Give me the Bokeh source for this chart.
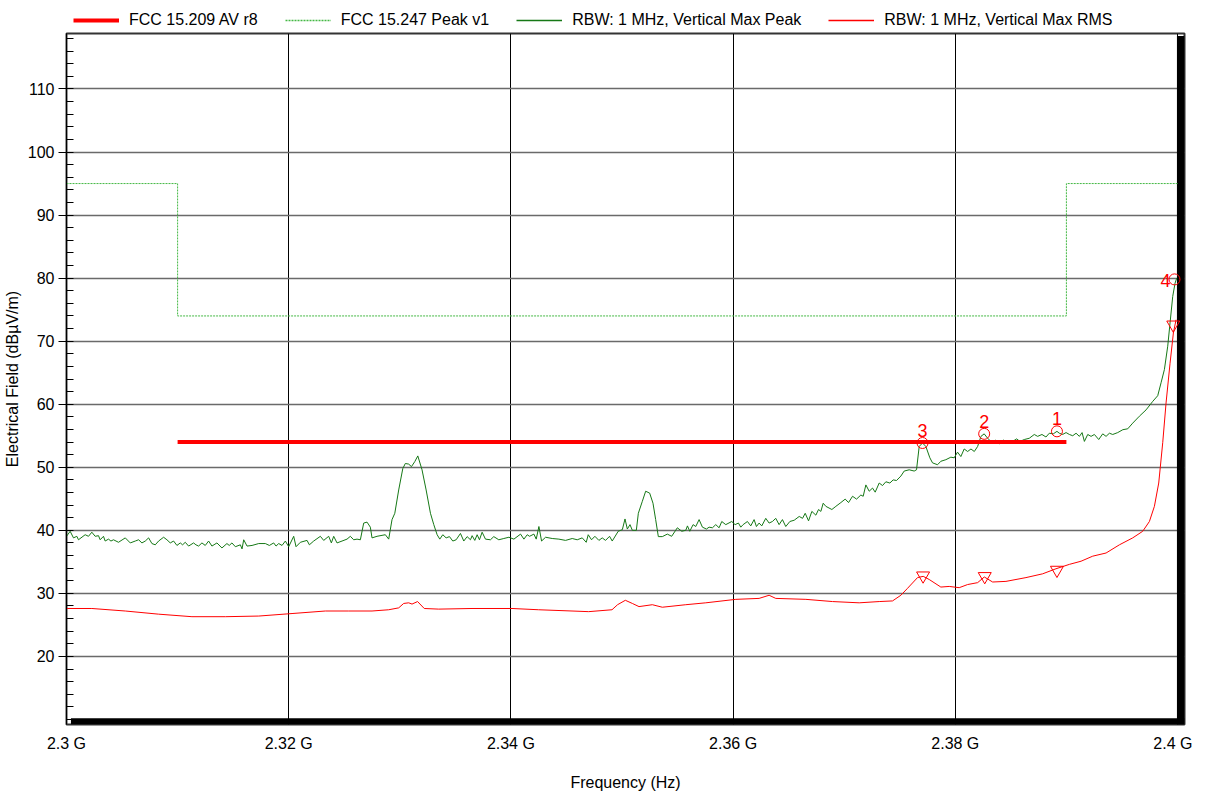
from bokeh.plotting import figure
from bokeh.layouts import column
from bokeh.models import (ColumnDataSource, Legend, LegendItem, FixedTicker,
                          CustomJSTickFormatter, Range1d)
from bokeh.core.properties import value
from bokeh.embed import file_html
from bokeh.resources import INLINE

FONT = "Liberation Sans"
F0 = 2300.0  # MHz, start of sweep

# ---- Data (frequency offsets in MHz from 2.3 GHz, levels in dBuV/m) ----
peak_off = [0, 0.33, 0.63, 0.93, 1.08, 1.68, 1.98, 2.28, 2.58, 2.88, 3.03, 3.33, 3.48, 3.78, 4.0,
            4.23, 4.68, 5.29, 5.74, 6.19, 6.49, 6.79, 7.09, 7.39, 7.69, 7.99, 8.29, 8.74, 9.04,
            9.34, 9.64, 9.94, 10.24, 10.45, 10.69, 10.99, 11.44, 11.65, 11.89, 12.19, 12.49,
            12.79, 13.09, 13.54, 13.99, 14.44, 14.65, 14.89, 15.2, 15.65, 15.8, 15.95, 16.25,
            16.7, 17.3, 17.9, 18.26, 18.65, 18.86, 19.1, 19.4, 19.7, 20.0, 20.45, 20.66, 21.05,
            21.65, 21.86, 22.25, 22.85, 23.15, 23.6, 23.84, 24.05, 24.35, 24.8, 25.25, 25.55,
            25.85, 26.15, 26.45, 26.75, 27.05, 27.35, 27.5, 27.95, 28.4, 28.7, 29.0, 29.3, 29.55,
            29.9, 30.27, 30.5, 30.8, 31.05, 31.35, 31.62, 32.0, 32.37, 32.76, 33.06, 33.36, 33.6,
            33.87, 34.17, 34.47, 34.77, 35.07, 35.46, 35.76, 36.06, 36.36, 36.51, 36.75, 36.96,
            37.17, 37.41, 37.71, 38.16, 38.46, 38.91, 39.36, 39.82, 40.27, 40.87, 41.17, 41.47,
            41.68, 42.07, 42.28, 42.52, 42.76, 43.12, 43.72, 44.32, 44.92, 45.52, 45.97, 46.42,
            46.78, 46.96, 47.26, 47.56, 47.92, 48.22, 48.52, 48.88, 49.12, 49.66, 50.03, 50.27,
            50.48, 50.72, 50.93, 51.29, 51.47, 51.83, 52.13, 52.49, 52.79, 53.03, 53.27, 53.63,
            54.08, 54.47, 54.98, 55.38, 55.74, 55.89, 56.1, 56.4, 56.64, 56.94, 57.24, 57.6,
            57.84, 58.14, 58.44, 58.74, 58.98, 59.34, 59.88, 60.18, 60.48, 60.69, 60.9, 61.29,
            61.59, 61.89, 62.1, 62.34, 62.58, 62.94, 63.24, 63.54, 63.84, 64.14, 64.44, 64.74,
            65.11, 65.5, 65.95, 66.25, 66.49, 66.79, 67.09, 67.45, 67.69, 67.9, 68.11, 68.35,
            68.89, 69.25, 69.7, 70.09, 70.39, 70.75, 71.11, 71.5, 71.71, 71.95, 72.25, 72.55,
            72.79, 73.15, 73.45, 73.75, 74.11, 74.41, 74.71, 75.1, 75.4, 75.85, 76.3, 76.51,
            76.75, 77.05, 77.35, 77.71, 77.95, 78.4, 78.7, 79.15, 79.6, 79.9, 80.2, 80.5, 80.8,
            81.11, 81.41, 81.71, 82.01, 82.31, 82.6, 82.91, 83.21, 83.66, 83.96, 84.32, 84.71,
            85.16, 85.52, 85.82, 86.21, 86.66, 87.11, 87.41, 87.8, 88.16, 88.46, 88.82, 89.15,
            89.36, 89.66, 89.97, 90.27, 90.57, 90.87, 91.17, 91.41, 91.62, 91.92, 92.22, 92.52,
            92.91, 93.27, 93.57, 93.87, 94.17, 94.62, 95.08, 95.52, 95.97, 96.57, 97.17, 97.77,
            98.22, 98.52, 98.82, 99.12, 99.33, 99.57, 99.78, 99.93]
peak_val = [39.05, 39.84, 38.8, 39.05, 38.5, 39.3, 39.05, 39.7, 39.05, 39.15, 38.5, 39.05, 38.3,
            38.6, 38.3, 38.5, 38.1, 38.8, 38.0, 38.3, 38.5, 38.0, 38.3, 38.8, 37.9, 37.7, 38.3,
            38.9, 38.5, 38.0, 38.3, 37.6, 38.0, 37.7, 38.1, 37.5, 38.0, 37.7, 37.5, 38.0, 37.6,
            38.3, 37.5, 38.0, 37.2, 37.9, 37.6, 38.0, 37.4, 37.7, 37.05, 38.5, 37.5, 37.6, 37.9,
            37.9, 37.6, 38.0, 37.5, 37.9, 37.6, 38.3, 37.4, 39.05, 37.4, 38.1, 38.4, 37.7, 38.3,
            39.05, 38.4, 39.05, 38.0, 39.05, 38.0, 38.3, 38.6, 39.05, 38.5, 38.6, 38.5, 41.15,
            41.3, 40.5, 38.8, 39.05, 39.2, 39.3, 38.6, 41.7, 42.7, 46.4, 49.8, 50.6, 50.5, 50.1,
            50.9, 51.8, 49.6, 46.4, 42.7, 40.9, 39.3, 38.6, 39.3, 38.8, 39.0, 38.3, 38.5, 39.5,
            38.3, 39.0, 38.5, 39.15, 38.4, 39.3, 38.5, 39.7, 38.6, 38.5, 39.0, 38.5, 38.7, 38.9,
            38.6, 39.4, 38.6, 39.3, 39.05, 39.4, 38.6, 40.6, 38.3, 38.9, 38.7, 38.6, 38.4, 38.7,
            38.5, 38.8, 38.1, 39.3, 38.5, 39.05, 38.4, 38.8, 38.4, 39.05, 38.3, 39.85, 40.1,
            41.8, 40.2, 40.9, 40.0, 40.0, 42.7, 44.6, 46.2, 45.9, 44.3, 41.7, 39.0, 39.0, 39.4,
            39.05, 40.4, 39.85, 40.0, 40.7, 39.85, 40.9, 40.6, 41.7, 40.5, 40.2, 40.5, 40.4,
            40.9, 40.4, 41.4, 40.9, 41.4, 40.9, 41.15, 40.5, 40.9, 41.4, 40.7, 41.7, 40.6, 41.15,
            40.7, 41.9, 41.15, 41.4, 41.9, 40.9, 41.7, 40.6, 41.4, 41.6, 42.2, 41.9, 42.7, 41.5,
            43.0, 42.4, 43.3, 43.0, 44.3, 43.8, 43.3, 43.8, 44.4, 44.95, 44.4, 45.4, 44.95, 45.6,
            45.4, 47.2, 46.2, 46.7, 46.05, 47.5, 47.1, 47.7, 47.5, 48.0, 47.9, 48.6, 49.4, 49.6,
            49.4, 49.6, 53.3, 53.85, 53.3, 51.5, 50.7, 50.4, 50.95, 51.2, 51.6, 51.5, 52.4, 51.7,
            52.9, 52.5, 52.9, 52.5, 53.3, 54.9, 55.3, 54.6, 54.1, 54.3, 53.7, 54.3, 53.96, 54.1,
            54.5, 54.1, 54.4, 54.6, 55.2, 54.9, 55.2, 54.8, 55.4, 55.3, 55.7, 55.4, 55.2, 55.5,
            55.2, 55.0, 55.4, 54.9, 55.5, 54.1, 55.2, 54.9, 55.2, 54.4, 55.3, 54.9, 55.4, 55.2,
            55.5, 55.96, 56.1, 57.0, 58.1, 59.1, 60.45, 61.35, 63.4, 65.5, 69.2, 72.9, 77.1,
            79.2, 80.0]

rms_off = [0, 2.28, 5.29, 8.29, 11.29, 14.3, 17.3, 20.3, 23.3, 25.4, 27.5, 29.0, 29.9, 30.35,
           30.8, 31.1, 31.6, 32.2, 33.5, 36.5, 40.1, 42.5, 45.5, 47.0, 49.1, 49.6, 50.3, 50.93,
           51.53, 52.73, 53.63, 55.74, 57.54, 60.24, 62.34, 63.24, 63.84, 66.55, 68.95, 71.35,
           73.15, 74.35, 75.1, 75.7, 76.6, 77.11, 77.65, 78.7, 79.45, 80.35, 81.11, 82.01,
           82.61, 83.36, 84.56, 86.36, 87.86, 89.06, 90.27, 91.32, 92.37, 93.57, 94.77, 95.97,
           96.87, 97.47, 97.92, 98.31, 98.67, 98.97, 99.33, 99.63, 99.87]
rms_val = [27.6, 27.6, 27.2, 26.7, 26.3, 26.3, 26.4, 26.8, 27.2, 27.2, 27.2, 27.4, 27.7, 28.4,
           28.5, 28.3, 28.7, 27.6, 27.5, 27.6, 27.6, 27.4, 27.2, 27.1, 27.4, 28.2, 28.9, 28.4,
           27.9, 28.2, 27.8, 28.2, 28.5, 29.05, 29.2, 29.7, 29.2, 29.05, 28.7, 28.5, 28.7, 28.8,
           29.7, 30.8, 32.5, 32.7, 32.2, 31.0, 31.1, 30.9, 31.4, 31.7, 32.6, 31.8, 31.9, 32.5,
           33.1, 33.9, 34.6, 35.1, 35.9, 36.4, 37.7, 38.8, 39.85, 41.4, 43.8, 47.5, 53.9, 60.2,
           66.5, 71.3, 73.4]

# Limit lines
av_lim_off = [10, 90]
av_lim_val = [54, 54]
pk_lim_off = [0, 10, 10, 90, 90, 100]
pk_lim_val = [95, 95, 74, 74, 95, 95]

# Markers
mk_labels = ["1", "2", "3", "4"]
mk_off = [89.15, 82.6, 77.05, 99.73]
mk_peak = [55.7, 55.3, 53.85, 79.8]
mk_rms_off = [89.15, 82.65, 77.1, 99.62]
mk_rms = [33.7, 32.7, 32.8, 72.6]

x_tick_off = [0, 20, 40, 60, 80, 100]
y_major = [20, 30, 40, 50, 60, 70, 80, 90, 100, 110]
y_minor = list(range(10, 119, 2))

legend_labels = ["FCC 15.209 AV r8", "FCC 15.247 Peak v1",
                 "RBW: 1 MHz, Vertical Max Peak", "RBW: 1 MHz, Vertical Max RMS"]

# ---- Styling constants ----
X_LO, X_HI, X_SHADOW = F0, F0 + 100, F0 + 100.63
Y_LO, Y_HI, Y_SHADOW = 10, 118.8, 9.2
RED = "#ff0000"
DKGREEN = "#167816"
LTGREEN = "#44b844"
FRAME_W, FRAME_H = 1118, 691
LEFT, RIGHT = 59, 8
FIG_W = LEFT + FRAME_W + RIGHT
LEG_H = 32

STYLE_AV = dict(line_color=RED, line_width=4)
STYLE_PKLIM = dict(line_color=LTGREEN, line_width=1, line_dash="2 1")
STYLE_PEAK = dict(line_color=DKGREEN, line_width=1)
STYLE_RMS = dict(line_color=RED, line_width=1)

p = figure(frame_width=FRAME_W, frame_height=FRAME_H, x_range=Range1d(X_LO, X_SHADOW),
           y_range=Range1d(Y_SHADOW, Y_HI), output_backend="svg", toolbar_location=None,
           min_border_left=LEFT, min_border_right=RIGHT, min_border_top=1,
           min_border_bottom=56, background_fill_color="white", border_fill_color="white")

p.outline_line_color = "#333333"
p.outline_line_width = 2

# grids
p.xgrid.ticker = FixedTicker(ticks=[F0 + t for t in x_tick_off])
p.xgrid.grid_line_color = "black"
p.xgrid.grid_line_width = 1
p.ygrid.ticker = FixedTicker(ticks=y_major)
p.ygrid.grid_line_color = "#6a6a6a"
p.ygrid.grid_line_width = 1.6

# axes
xa = p.xaxis[0]
xa.ticker = FixedTicker(ticks=[F0 + t for t in x_tick_off])
xa.formatter = CustomJSTickFormatter(code="return (tick/1000).toFixed(2).replace(/0$/, '') + ' G';")
xa.major_tick_out = 0
xa.major_tick_in = 0
xa.minor_tick_out = 0
xa.minor_tick_in = 0
xa.axis_line_color = None
xa.major_label_standoff = 10
xa.major_label_text_font = FONT
xa.major_label_text_font_size = "16px"
xa.major_label_text_color = "black"
xa.axis_label = "Frequency (Hz)"
xa.axis_label_text_font = FONT
xa.axis_label_text_font_size = "16px"
xa.axis_label_text_font_style = "normal"
xa.axis_label_text_color = "black"
xa.axis_label_standoff = 19

ya = p.yaxis[0]
ya.ticker = FixedTicker(ticks=y_major, minor_ticks=y_minor)
ya.major_tick_out = 8
ya.major_tick_in = 0
ya.minor_tick_out = 0
ya.minor_tick_in = 7
ya.major_tick_line_color = "black"
ya.minor_tick_line_color = "black"
ya.axis_line_color = "black"
ya.axis_line_width = 1
ya.major_label_standoff = 4
ya.major_label_text_font = FONT
ya.major_label_text_font_size = "16px"
ya.major_label_text_color = "black"
ya.axis_label = "Electrical Field (dBµV/m)"
ya.axis_label_text_font = FONT
ya.axis_label_text_font_size = "16px"
ya.axis_label_text_font_style = "normal"
ya.axis_label_text_color = "black"
ya.axis_label_standoff = 4

# frame shadow bars (decoration)
p.quad(left=[X_LO + 0.4, X_HI - 0.05], right=[X_SHADOW, X_SHADOW],
       bottom=[Y_SHADOW, Y_SHADOW], top=[10.2, Y_HI - 0.4],
       fill_color="black", line_color=None)

# limit: FCC 15.247 peak
p.line([F0 + t for t in pk_lim_off], pk_lim_val, **STYLE_PKLIM)
# traces
p.line([F0 + t for t in peak_off], peak_val, **STYLE_PEAK)
p.line([F0 + t for t in rms_off], rms_val, **STYLE_RMS)
# limit: FCC 15.209 AV
p.line([F0 + t for t in av_lim_off], av_lim_val, **STYLE_AV)

# markers
p.scatter([F0 + t for t in mk_off], mk_peak, marker="circle", size=11, fill_color=None,
          line_color=RED, line_width=1)
p.scatter([F0 + t for t in mk_rms_off], mk_rms, marker="inverted_triangle", size=13,
          fill_color=None, line_color=RED, line_width=1)
tsrc = ColumnDataSource(dict(x=[F0 + t for t in mk_off[:3]], y=mk_peak[:3], lab=mk_labels[:3]))
p.text("x", "y", text="lab", source=tsrc, text_align="center", text_baseline="bottom",
       y_offset=-6, text_color=RED, text_font=value(FONT), text_font_size="18px")
t4 = ColumnDataSource(dict(x=[F0 + mk_off[3]], y=[mk_peak[3]], lab=[mk_labels[3]]))
p.text("x", "y", text="lab", source=t4, text_align="right", text_baseline="middle",
       x_offset=-4, y_offset=1, text_color=RED, text_font=value(FONT), text_font_size="18px")

# ---- legend strip above the plot (legend keys share the trace styles) ----
lg = figure(width=FIG_W, height=LEG_H, x_range=Range1d(0, 1), y_range=Range1d(0, 1),
            output_backend="svg", toolbar_location=None, min_border=0,
            x_axis_location=None, y_axis_location=None,
            background_fill_color="white", border_fill_color="white")
lg.outline_line_color = None
lg.grid.visible = False
KEY_STYLES = [STYLE_AV, dict(STYLE_PKLIM, line_width=1.5),
              dict(STYLE_PEAK, line_width=1.5), dict(STYLE_RMS, line_width=1.5)]
# key renderers hold points outside the visible range, only their style is shown
keys = [lg.line([-5, -4], [-5, -5], **s) for s in KEY_STYLES]
legend = Legend(items=[LegendItem(label=lab, renderers=[r]) for lab, r in zip(legend_labels, keys)],
                orientation="horizontal", location=(LEFT - 52, 3), padding=3, margin=0,
                spacing=27, glyph_width=46, glyph_height=18, label_height=18,
                label_standoff=10, label_text_font=FONT, label_text_font_size="16px",
                label_text_color="black",
                border_line_color=None, background_fill_alpha=0)
lg.add_layout(legend, "center")

layout = column(lg, p, spacing=0)
open("out.html", "w").write(file_html(layout, INLINE))
